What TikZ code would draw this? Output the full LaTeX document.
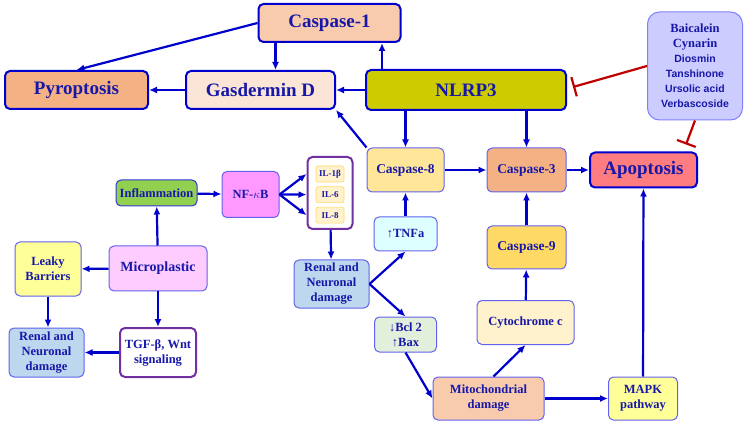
\documentclass[tikz,border=0pt]{standalone}
\usepackage{fontspec}
\setmainfont{Liberation Serif}
\newfontfamily\listsans{Liberation Sans}
\usetikzlibrary{arrows.meta,positioning,calc}
\definecolor{TextBlue}{HTML}{1818A8}
\definecolor{EdgeBlue}{HTML}{0000CC}
\definecolor{EdgeLight}{HTML}{6262EE}
\definecolor{ArrowBlue}{HTML}{0000CC}
\definecolor{InhibRed}{HTML}{C00000}
\definecolor{GroupPurple}{HTML}{7030A0}
\definecolor{PeachFill}{HTML}{F8CBAD}
\definecolor{OrangeFill}{HTML}{F4B183}
\definecolor{PaleOrange}{HTML}{FBE5D6}
\definecolor{OliveFill}{HTML}{CCCC00}
\definecolor{LavenderFill}{HTML}{CCCCFF}
\definecolor{LavenderEdge}{HTML}{8080FF}
\definecolor{SandFill}{HTML}{FFE699}
\definecolor{RoseFill}{HTML}{FF7C80}
\definecolor{GreenFill}{HTML}{92D050}
\definecolor{MagentaFill}{HTML}{FF99FF}
\definecolor{CreamFill}{HTML}{FFF2CC}
\definecolor{CreamEdge}{HTML}{FFD966}
\definecolor{SkyFill}{HTML}{BDD7EE}
\definecolor{CyanFill}{HTML}{DDFFFF}
\definecolor{MintFill}{HTML}{E2EFDA}
\definecolor{GoldFill}{HTML}{FFD966}
\definecolor{LemonFill}{HTML}{FFFF99}
\definecolor{PinkFill}{HTML}{FFCCFF}
\tikzset{
  mainnode/.style={draw=EdgeBlue,line width=2pt,rounded corners=5pt,align=center,inner sep=0pt,text=TextBlue,font=\bfseries\fontsize{19}{22}\selectfont},
  smallnode/.style={draw=EdgeLight,line width=1pt,rounded corners=5pt,align=center,inner sep=0pt,text=TextBlue,font=\bfseries\fontsize{12.5}{15}\selectfont},
  casenode/.style={smallnode,font=\bfseries\fontsize{13.5}{15}\selectfont},
  groupnode/.style={draw=GroupPurple,line width=2pt,fill=white,rounded corners=5pt,align=center,inner sep=0pt,text=TextBlue,font=\bfseries\fontsize{12.5}{15}\selectfont},
  cytonode/.style={draw=CreamEdge,line width=0.6pt,fill=CreamFill,rounded corners=2pt,minimum width=28pt,minimum height=16pt,inner sep=0pt,text=TextBlue,font=\bfseries\fontsize{9}{10}\selectfont},
  arrow/.style={-{Latex[length=8pt,width=7pt]},line width=2.2pt,draw=ArrowBlue},
  inhibit/.style={-{Bar[width=20pt,line width=2.2pt]},line width=2.2pt,draw=InhibRed}
}
\newcommand{\drugname}[1]{{\listsans\fontsize{10.5}{15}\selectfont #1}}
\begin{document}
\begin{tikzpicture}[x=1pt,y=-1pt]
\useasboundingbox (0,0) rectangle (748,425);
% top row: pyroptosis branch
\node[mainnode,fill=PeachFill,minimum width=142pt,minimum height=38pt] (casp1) at (329.5,23) {Caspase-1};
\node[mainnode,fill=OrangeFill,minimum width=143pt,minimum height=38pt] (pyro) at (76.5,90) {Pyroptosis};
\node[mainnode,fill=PaleOrange,minimum width=149pt,minimum height=38pt] (gsdmd) at (260.5,90) {Gasdermin D};
\node[mainnode,fill=OliveFill,minimum width=200pt,minimum height=40pt] (nlrp3) at (466,90) {NLRP3};
\node[smallnode,draw=LavenderEdge,fill=LavenderFill,rounded corners=12pt,minimum width=95pt,minimum height=108pt] (inhib) at (695,66)
  {Baicalein\\Cynarin\\\drugname{Diosmin}\\\drugname{Tanshinone}\\\drugname{Ursolic acid}\\\drugname{Verbascoside}};
% apoptosis row
\node[casenode,fill=SandFill,minimum width=77pt,minimum height=44pt] (casp8) at (405.5,170) {Caspase-8};
\node[casenode,fill=OrangeFill,minimum width=79pt,minimum height=44pt] (casp3) at (526.5,170) {Caspase-3};
\node[mainnode,fill=RoseFill,minimum width=107pt,minimum height=35pt] (apop) at (643.5,170) {Apoptosis};
% inflammation branch
\node[smallnode,draw=EdgeBlue!80,fill=GreenFill,minimum width=81pt,minimum height=26pt] (inflam) at (156.5,193) {Inflammation};
\node[smallnode,fill=MagentaFill,minimum width=57pt,minimum height=46pt] (nfkb) at (250.5,194.5) {NF-$\kappa$B};
\node[groupnode,minimum width=45pt,minimum height=72pt] (ilbox) at (330,193) {};
\node[cytonode] (il1b) at (330,174) {IL-1β};
\node[cytonode,below=4pt of il1b] (il6) {IL-6};
\node[cytonode,below=4pt of il6] (il8) {IL-8};
\node[smallnode,fill=SkyFill,minimum width=75pt,minimum height=48pt] (renalmid) at (331.5,284) {Renal and\\Neuronal\\damage};
\node[smallnode,fill=CyanFill,minimum width=63pt,minimum height=34pt] (tnf) at (405.5,234) {\textmd{↑}TNFa};
\node[smallnode,fill=MintFill,minimum width=62pt,minimum height=35pt] (bcl) at (405.5,334.5) {↓Bcl 2\\↑Bax};
% mitochondrial route
\node[casenode,fill=GoldFill,minimum width=79pt,minimum height=43pt] (casp9) at (526.5,247.5) {Caspase-9};
\node[smallnode,fill=CreamFill,minimum width=97pt,minimum height=44pt] (cytc) at (525.5,322.5) {Cytochrome c};
\node[smallnode,fill=PeachFill,minimum width=111pt,minimum height=43pt] (mito) at (488.5,398.5) {Mitochondrial\\damage};
\node[smallnode,fill=LemonFill,minimum width=69pt,minimum height=43pt] (mapk) at (643,398.5) {MAPK\\pathway};
% microplastic source
\node[smallnode,fill=PinkFill,minimum width=98pt,minimum height=45pt,font=\bfseries\fontsize{14}{16}\selectfont] (micro) at (158,268.5) {Microplastic};
\node[smallnode,fill=LemonFill,minimum width=66pt,minimum height=54pt] (leaky) at (48,269) {Leaky\\Barriers};
\node[smallnode,fill=SkyFill,minimum width=75pt,minimum height=49pt] (renalleft) at (46.5,352.5) {Renal and\\Neuronal\\damage};
\node[groupnode,minimum width=76pt,minimum height=49pt] (tgf) at (158,352.5) {TGF-β, Wnt\\signaling};
% connectors
\draw[arrow] (casp1.west) -- (pyro.north);
\draw[arrow] ([xshift=18pt]casp1.south west) -- ([xshift=18pt]casp1.south west |- gsdmd.north);
\draw[arrow] ([xshift=17pt]nlrp3.north west) -- ([xshift=17pt]nlrp3.north west |- casp1.south);
\draw[arrow] (nlrp3.west) -- (gsdmd.east);
\draw[arrow] (gsdmd.west) -- (pyro.east);
\draw[arrow] (casp8.north west) -- (gsdmd.south east);
\draw[arrow] (casp8.north |- nlrp3.south) -- (casp8.north);
\draw[arrow] (casp3.north |- nlrp3.south) -- (casp3.north);
\draw[arrow] (casp8) -- (casp3);
\draw[arrow] (casp3) -- (apop);
\draw[inhibit] (inhib.west) -- ($(nlrp3.east)+(6,-3)$);
\draw[inhibit] (inhib.south) -- ($(apop.north east)+(-12,-7)$);
\draw[arrow] (micro) -- (inflam);
\draw[arrow] (inflam) -- (nfkb);
\foreach \il in {il1b,il6,il8}
  \draw[arrow] (nfkb.east) -- (ilbox.west |- \il);
\draw[arrow] (ilbox) -- (renalmid);
\draw[arrow] (renalmid.east) -- (tnf.south);
\draw[arrow] (renalmid.east) -- (bcl.north);
\draw[arrow] (tnf) -- (casp8);
\draw[arrow] (bcl.south) -- (mito.west);
\draw[arrow] ([xshift=5pt]mito.north) -- (cytc.south);
\draw[arrow] (cytc) -- (casp9);
\draw[arrow] (casp9) -- (casp3);
\draw[arrow] (mito) -- (mapk);
\draw[arrow] (mapk) -- (apop);
\draw[arrow] (micro) -- (leaky);
\draw[arrow] (leaky.south) -- (leaky.south |- renalleft.north);
\draw[arrow] (micro) -- (tgf);
\draw[arrow] (tgf) -- (renalleft);
\end{tikzpicture}
\end{document}
